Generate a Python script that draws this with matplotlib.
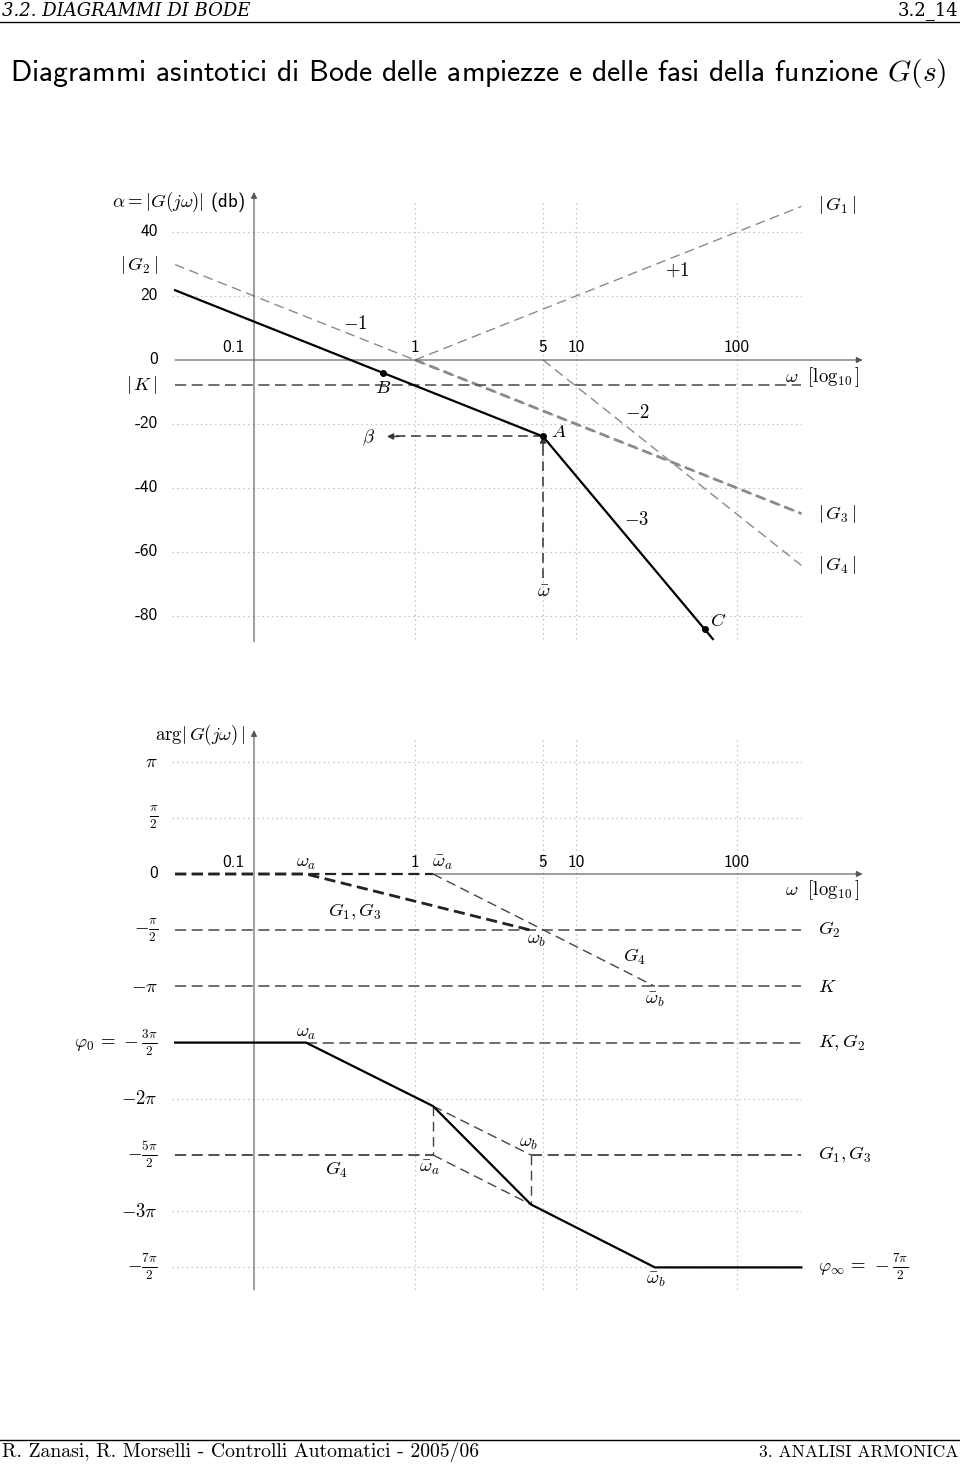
import matplotlib
matplotlib.use('Agg')
import matplotlib.pyplot as plt

plt.rcParams['mathtext.fontset'] = 'cm'
plt.rcParams['lines.scale_dashes'] = False
plt.rcParams['axes.unicode_minus'] = False

# ---------------- data (x in log10(omega) decades) ----------------
freq_ticks = [-1.0, 0.0, 0.795, 1.0, 2.0]
freq_labels = ['0.1', '1', '5', '10', '100']
vgrid = [0.0, 0.795, 1.0, 2.0]

# magnitude diagram [dB]
mag_ticks = [40, 20, 0, -20, -40, -60, -80]
mag_grid = [40, 20, -20, -40, -60, -80]
K_db = -7.8
G1_logw, G1_db = [0.0, 2.40], [0.0, 48.0]
G2_logw, G2_db = [-1.49, 2.40], [29.8, -48.0]
G3_logw, G3_db = [0.0, 2.40], [0.0, -48.0]
G4_logw, G4_db = [0.795, 2.40], [0.0, -64.2]
G_logw = [-1.49, 0.795, 1.85]
G_db = [21.8, -23.9, -87.2]
pt_B = (-0.20, -4.0)
pt_A = (0.795, -23.9)
pt_C = (1.80, -84.2)

# phase diagram [units of pi]
w_a, wbar_a, w_b, wbar_b = -0.677, 0.112, 0.72, 1.49
ph_ticks = [1, 0.5, 0, -0.5, -1, -1.5, -2, -2.5, -3, -3.5]
ph_ticklabels = [r'$\pi$', r'$\frac{\pi}{2}$', '0', r'$-\frac{\pi}{2}$', r'$-\pi$',
                 r'$\varphi_0\,=\,-\frac{3\pi}{2}$', r'$-2\pi$', r'$-\frac{5\pi}{2}$',
                 r'$-3\pi$', r'$-\frac{7\pi}{2}$']
ph_grid = [1, 0.5, -2, -3, -3.5]
G13_logw, G13_ph = [-1.49, w_a, w_b], [0.0, 0.0, -0.5]
G4_ph_logw, G4_ph = [wbar_a, wbar_b], [0.0, -1.0]
G2_ph, K_ph, KG2_ph, G13inf_ph = -0.5, -1.0, -1.5, -2.5
ph_logw = [-1.49, w_a, wbar_a, w_b, wbar_b, 2.40]
ph_val = [-1.5, -1.5, -2.065, -2.94, -3.5, -3.5]
part1_logw, part1_ph = [wbar_a, w_b], [-2.065, -2.5]
part2_logw, part2_ph = [wbar_a, w_b], [-2.5, -2.94]

# ---------------- figure ----------------
W, H = 960, 1465
fig = plt.figure(figsize=(W / 100, H / 100), dpi=100)

X1, DEC = 415, 161
def rect(xlim, y0pix, ppu, ylim):
    left = X1 + xlim[0] * DEC
    right = X1 + xlim[1] * DEC
    top = y0pix - ylim[1] * ppu
    bot = y0pix - ylim[0] * ppu
    return [left / W, 1 - bot / H, (right - left) / W, (bot - top) / H]

XL = (-1.6, 2.9)
axm = fig.add_axes(rect(XL, 360, 3.2, (-90, 55)))
axm.set_xlim(XL); axm.set_ylim(-90, 55)
axp = fig.add_axes(rect(XL, 874, 112.4, (-3.75, 1.35)))
axp.set_xlim(XL); axp.set_ylim(-3.75, 1.35)
for a in (axm, axp):
    a.axis('off')

SANS = 'cmss10'
FS = 12.5
MFS = 13.5
grid_kw = dict(color='#c8c8c8', lw=0.9, ls=(0, (1.2, 2.2)), zorder=1)
axis_kw = dict(arrowstyle='-|>', lw=0.8, color='#555555', mutation_scale=9, shrinkA=0, shrinkB=0)

def T(ax, x, y, s, ha='center', va='center', fs=MFS, **kw):
    ax.text(x, y, s, ha=ha, va=va, fontsize=fs, clip_on=False, **kw)

# ======== magnitude ========
for y in mag_grid:
    axm.plot([-1.51, 2.40], [y, y], **grid_kw)
for x in vgrid:
    axm.plot([x, x], [49, -88], **grid_kw)
axm.annotate('', xy=(2.78, 0), xytext=(-1.49, 0), arrowprops=axis_kw)
axm.annotate('', xy=(-1.0, 52.5), xytext=(-1.0, -88), arrowprops=axis_kw)

axm.plot(G2_logw, G2_db, color='#8a8a8a', lw=1.0, dashes=(7, 4), zorder=2)
axm.plot(G1_logw, G1_db, color='#8a8a8a', lw=1.0, dashes=(7, 4), zorder=2)
axm.plot(G3_logw, G3_db, color='#8a8a8a', lw=2.0, dashes=(7, 4), zorder=2)
axm.plot(G4_logw, G4_db, color='#8a8a8a', lw=1.0, dashes=(7, 4), zorder=2)
axm.plot([-1.49, 2.40], [K_db, K_db], color='#555555', lw=1.2, dashes=(8, 4), zorder=2)
axm.plot(G_logw, G_db, color='black', lw=1.6, zorder=4)
for p in (pt_B, pt_A, pt_C):
    axm.plot(*p, 'o', color='black', ms=4, zorder=5)

# beta and omega-bar arrows
axm.plot([pt_A[0], -0.15], [pt_A[1], pt_A[1]], color='#333333', lw=1.1, dashes=(7, 4), zorder=3)
axm.annotate('', xy=(-0.174, pt_A[1]), xytext=(-0.10, pt_A[1]),
             arrowprops=dict(arrowstyle='-|>', lw=1.0, color='#333333', mutation_scale=9,
                             shrinkA=0, shrinkB=0))
axm.plot([pt_A[0], pt_A[0]], [-68, pt_A[1] - 2], color='#333333', lw=1.1, dashes=(7, 4), zorder=3)
axm.annotate('', xy=pt_A, xytext=(pt_A[0], pt_A[1] - 3),
             arrowprops=dict(arrowstyle='-|>', lw=1.0, color='#333333', mutation_scale=9,
                             shrinkA=0, shrinkB=0))

# tick labels
for v in mag_ticks:
    T(axm, -1.596, v, str(v), ha='right', fs=FS, family=SANS)
for x, s in zip(freq_ticks, freq_labels):
    xx = -1.13 if s == '0.1' else x
    T(axm, xx, 3.8, s, fs=FS, family=SANS)
T(axm, -1.596, 29.7, r'$|\,G_2\,|$', ha='right')
T(axm, -1.596, -7.8, r'$|\,K\,|$', ha='right')
T(axm, -1.056, 49.4, r'$\alpha = |G(j\omega)|$ (db)', ha='right', fontfamily=SANS)
T(axm, -0.20, -8.6, r'$B$')
T(axm, -0.373, 11.4, r'$-1$')
T(axm, -0.286, -24.4, r'$\beta$')
T(axm, 0.894, -22.2, r'$A$')
T(axm, 1.379, -16.4, r'$-2$')
T(axm, 1.627, 28.1, r'$+1$')
T(axm, 1.379, -49.7, r'$-3$')
T(axm, 2.50, 48.4, r'$|\,G_1\,|$', ha='left')
T(axm, 2.50, -48.0, r'$|\,G_3\,|$', ha='left')
T(axm, 2.50, -64.0, r'$|\,G_4\,|$', ha='left')
T(axm, 2.764, -5.3, r'$\omega\ \ [\log_{10}]$', ha='right')
T(axm, 0.80, -71.9, r'$\bar{\omega}$')
T(axm, 1.88, -81.3, r'$C$')

# ======== phase ========
for y in ph_grid:
    axp.plot([-1.51, 2.40], [y, y], **grid_kw)
for x in vgrid:
    axp.plot([x, x], [1.19, -3.70], **grid_kw)
axp.annotate('', xy=(2.78, 0), xytext=(wbar_a, 0), arrowprops=axis_kw)
axp.annotate('', xy=(-1.0, 1.28), xytext=(-1.0, -3.70), arrowprops=axis_kw)

dk = '#555555'
axp.plot([-1.49, 2.40], [G2_ph, G2_ph], color=dk, lw=1.2, dashes=(8, 4), zorder=2)
axp.plot([-1.49, 2.40], [K_ph, K_ph], color=dk, lw=1.2, dashes=(8, 4), zorder=2)
axp.plot([w_a, 2.40], [KG2_ph, KG2_ph], color=dk, lw=1.2, dashes=(8, 4), zorder=2)
axp.plot([-1.49, wbar_a], [G13inf_ph, G13inf_ph], color='#333333', lw=1.2, dashes=(8, 4), zorder=2)
axp.plot([w_b, 2.40], [G13inf_ph, G13inf_ph], color='#333333', lw=1.2, dashes=(8, 4), zorder=2)
axp.plot([-1.49, wbar_a], [0, 0], color='#222222', lw=1.6, dashes=(8, 4), zorder=2)
axp.plot(G13_logw, G13_ph, color='#222222', lw=2.0, dashes=(8, 4), zorder=3)
axp.plot(G4_ph_logw, G4_ph, color='#444444', lw=1.0, dashes=(7, 4), zorder=3)
axp.plot(part1_logw, part1_ph, color='#444444', lw=1.0, dashes=(7, 4), zorder=3)
axp.plot(part2_logw, part2_ph, color='#444444', lw=1.0, dashes=(7, 4), zorder=3)
axp.plot([wbar_a, wbar_a], [part1_ph[0], part2_ph[0]], color='#444444', lw=1.0, dashes=(7, 4), zorder=3)
axp.plot([w_b, w_b], [part1_ph[1], part2_ph[1]], color='#444444', lw=1.0, dashes=(7, 4), zorder=3)
axp.plot(ph_logw, ph_val, color='black', lw=1.6, zorder=4)

for v, s in zip(ph_ticks, ph_ticklabels):
    if s == '0':
        T(axp, -1.596, v, s, ha='right', fs=FS, family=SANS)
    else:
        T(axp, -1.596, v, s, ha='right')
for x, s in zip(freq_ticks, freq_labels):
    xx = -1.13 if s == '0.1' else x
    T(axp, xx, 0.098, s, fs=FS, family=SANS)
T(axp, -1.056, 1.237, r'$\arg|\,G(j\omega)\,|$', ha='right')
T(axp, w_a, 0.098, r'$\omega_a$')
T(axp, 0.17, 0.098, r'$\bar{\omega}_a$')
T(axp, 2.764, -0.142, r'$\omega\ \ [\log_{10}]$', ha='right')
T(axp, -0.373, -0.338, r'$G_1, G_3$')
T(axp, 0.758, -0.587, r'$\omega_b$')
T(axp, 1.366, -0.738, r'$G_4$')
T(axp, 1.491, -1.12, r'$\bar{\omega}_b$')
T(axp, 2.50, -0.5, r'$G_2$', ha='left')
T(axp, 2.50, -1.0, r'$K$', ha='left')
T(axp, 2.50, -1.5, r'$K, G_2$', ha='left')
T(axp, w_a, -1.406, r'$\omega_a$')
T(axp, 0.708, -2.39, r'$\omega_b$')
T(axp, 0.093, -2.61, r'$\bar{\omega}_a$')
T(axp, -0.49, -2.63, r'$G_4$')
T(axp, 2.50, -2.5, r'$G_1, G_3$', ha='left')
T(axp, 2.50, -3.5, r'$\varphi_\infty\,=\,-\frac{7\pi}{2}$', ha='left')
T(axp, 1.50, -3.61, r'$\bar{\omega}_b$')

# ======== page header / footer ========
fig.text(2 / W, 1 - 11 / H, '3.2. DIAGRAMMI DI BODE', ha='left', va='center',
         fontsize=13, family='DejaVu Serif', style='italic')
fig.text(958 / W, 1 - 11 / H, '3.2_14', ha='right', va='center', fontsize=13,
         family='DejaVu Serif')
fig.add_artist(plt.Line2D([0, 1], [1 - 21.5 / H] * 2, color='black', lw=1.0))
fig.text(478 / W, 1 - 74 / H,
         r'Diagrammi asintotici di Bode delle ampiezze e delle fasi della funzione $G(s)$',
         ha='center', va='center', fontsize=21.3, family=SANS)
fig.add_artist(plt.Line2D([0, 1], [1 - 1440 / H] * 2, color='black', lw=1.0))
fig.text(2 / W, 1 - 1452 / H, 'R. Zanasi, R. Morselli - Controlli Automatici - 2005/06',
         ha='left', va='center', fontsize=14.2, family='cmr10')
fig.text(958 / W, 1 - 1452 / H, '3. ANALISI ARMONICA', ha='right', va='center',
         fontsize=12.6, family='cmr10')

fig.savefig('out.png', dpi=100)
